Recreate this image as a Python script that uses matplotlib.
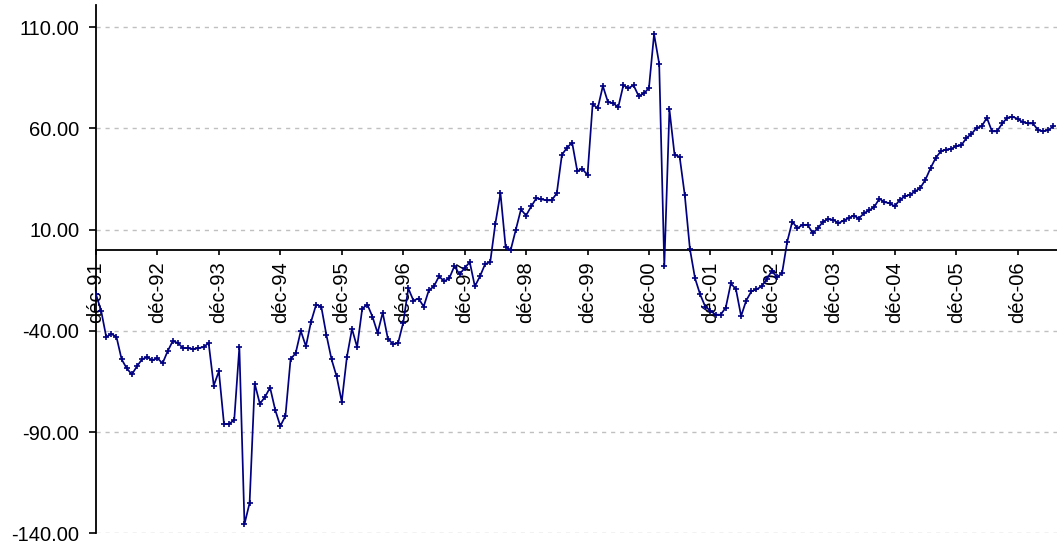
import matplotlib.pyplot as plt

# Monthly values, one per month starting in December 1991.
values = [
    -22, -30, -43, -41.5, -43, -54, -58.5, -61.5, -57.5, -54, -53, -54.5,
    -53.5, -56, -50, -45, -46, -48.5, -48.5, -49, -48.5, -48, -46, -67,
    -60, -86, -86, -84, -48, -135.5, -125, -66, -76, -72.7, -68, -79,
    -87, -82, -54, -51, -40, -47.6, -35.5, -27, -28, -42, -54, -62.5,
    -75, -53, -39, -48, -29, -27, -33, -41, -31, -43.8, -46.5, -46,
    -36, -19, -25, -24, -28, -20, -18, -13, -15.5, -14, -8, -12,
    -9, -6, -18, -13, -7, -6, 13, 28, 1.5, 0, 10, 20,
    17, 21.5, 25.5, 25, 24.5, 24.5, 28, 47, 50.5, 53, 39, 40,
    37, 72, 70, 81, 73, 72.5, 70.5, 81.3, 80, 81.3, 76, 77.3,
    80, 106.6, 92, -8, 69.4, 47, 46, 27, 0.5, -14, -22, -28,
    -30, -32, -32, -28.5, -16.5, -19.5, -32.7, -25, -20.5, -19.5, -18, -14.5,
    -10.3, -13.5, -11.5, 4, 14, 10.7, 12.4, 12.4, 8.3, 10.7, 14, 15.2,
    14.9, 13.2, 14.5, 15.7, 17, 15.5, 18.2, 19.5, 21.2, 25.3, 23.6, 23.1,
    21.5, 24.8, 26.4, 27.3, 28.9, 30.6, 34.7, 40.4, 45.4, 48.7, 49.6, 49.9,
    51.2, 51.6, 55.3, 57.3, 60.3, 61.1, 65.3, 58.6, 58.6, 62.5, 65.3, 65.8,
    64.8, 63.1, 62.5, 62.5, 59.2, 58.6, 59.2, 61.1,
]
months = list(range(len(values)))

tick_years = [91, 92, 93, 94, 95, 96, 97, 98, 99, 0, 1, 2, 3, 4, 5, 6]
tick_labels = [f"déc-{y:02d}" for y in tick_years]
tick_pos = [12 * i for i in range(len(tick_years))]
y_ticks = [110, 60, 10, -40, -90, -140]

plt.rcParams['font.family'] = ['Liberation Sans', 'DejaVu Sans']

fig = plt.figure(figsize=(10.57, 5.48), dpi=100)
ax = fig.add_axes([96 / 1057, 1 - 533.3 / 548, 961 / 1057, 528.3 / 548])

ax.plot(months, values, color='#000080', linewidth=1.25,
        marker='+', markersize=5, markeredgewidth=1.2, zorder=3)

# Axes in the old spreadsheet style: x axis sits on zero.
ax.set_xlim(0, 187.7)
ax.set_ylim(-140, 121)
ax.spines['top'].set_visible(False)
ax.spines['right'].set_visible(False)
ax.spines['bottom'].set_position(('data', 0))
ax.spines['bottom'].set_linewidth(1.3)
ax.spines['left'].set_linewidth(1.3)
ax.spines['bottom'].set_zorder(2)

ax.set_yticks(y_ticks)
ax.set_yticklabels([f"{v:.2f}" for v in y_ticks])
ax.set_xticks(tick_pos)
ax.set_xticklabels(tick_labels, rotation=90)

ax.tick_params(axis='y', direction='out', length=5, width=1.2, pad=7,
               labelsize=14.5)
ax.tick_params(axis='x', direction='out', length=3.5, width=1.2, pad=5,
               labelsize=14.5)

ax.yaxis.grid(True, color='#c0c0c0', linestyle=(0, (3, 3.5)), linewidth=1.0)
ax.set_axisbelow(True)

fig.savefig('out.png', dpi=100)
